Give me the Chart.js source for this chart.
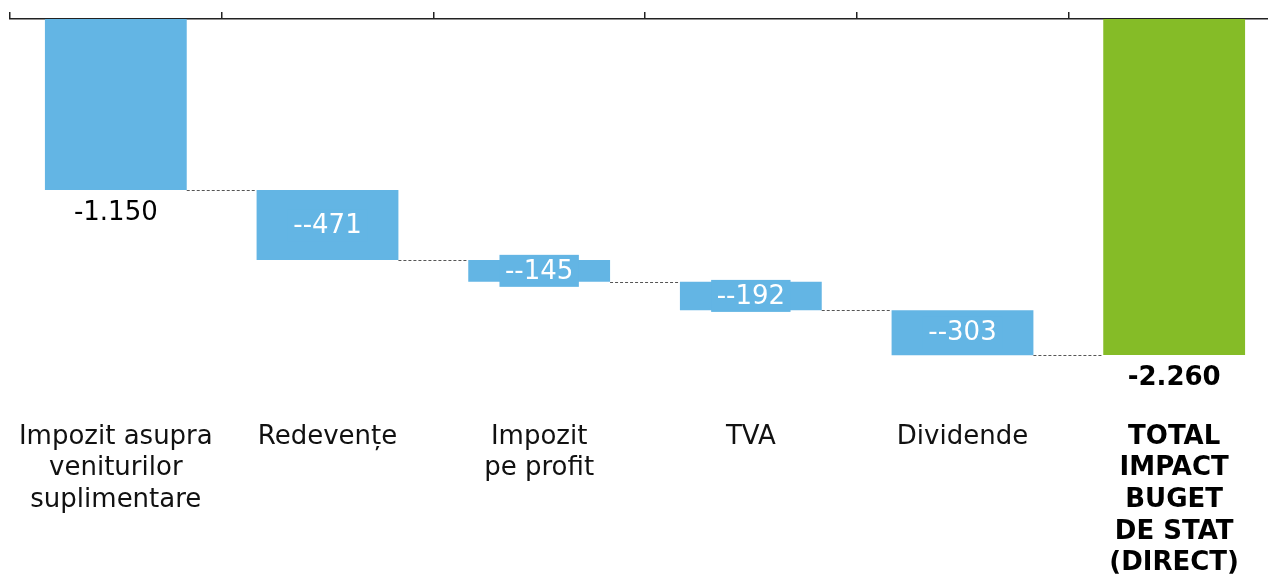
<!DOCTYPE html>
<html>
<head>
<meta charset="utf-8">
<script src="https://cdn.jsdelivr.net/npm/chart.js@4.4.0/dist/chart.umd.min.js"></script>
<style>
  html, body { margin: 0; padding: 0; background: #fff; overflow: hidden; }
  #wrap { width: 1280px; height: 576px; }
</style>
</head>
<body>
<div id="wrap"><canvas id="myChart"></canvas></div>
<script>
// data
var categories = [
    ['Impozit asupra', 'veniturilor', 'suplimentare'],
    ['Redevențe'],
    ['Impozit', 'pe profit'],
    ['TVA'],
    ['Dividende'],
    ['TOTAL', 'IMPACT', 'BUGET', 'DE STAT', '(DIRECT)']
];
var changes = [-1150, -471, -145, -192, -303];
var total = -2260;
var valueLabels = ['-1.150', '--471', '--145', '--192', '--303', '-2.260'];

var blue = 'rgb(99, 181, 228)';
var green = 'rgb(133, 188, 39)';
var fontFamily = "'DejaVu Sans', sans-serif";

// floating bars: running level for each step, total from zero
var bars = [];
var level = 0;
for (var i = 0; i < changes.length; i++) {
    bars.push([level, level + changes[i]]);
    level += changes[i];
}
bars.push([0, total]);

var labelPlugin = {
    id: 'wfLabels',
    afterDatasetsDraw: function(chart) {
        var ctx = chart.ctx;
        var meta = chart.getDatasetMeta(0);
        var y = chart.scales.y;
        ctx.save();
        // connectors
        ctx.strokeStyle = '#555';
        ctx.lineWidth = 1;
        ctx.setLineDash([3, 2]);
        for (var i = 0; i < bars.length - 1; i++) {
            var a = meta.data[i], b = meta.data[i + 1];
            var yy = Math.round(y.getPixelForValue(bars[i][1])) + 0.5;
            ctx.beginPath();
            ctx.moveTo(a.x + a.width / 2, yy);
            ctx.lineTo(b.x - b.width / 2, yy);
            ctx.stroke();
        }
        ctx.setLineDash([]);
        ctx.textAlign = 'center';
        ctx.textBaseline = 'middle';
        for (var j = 0; j < bars.length; j++) {
            var el = meta.data[j];
            var top = y.getPixelForValue(bars[j][0]);
            var bot = y.getPixelForValue(bars[j][1]);
            if (j === 0 || j === bars.length - 1) {
                ctx.font = (j === 0 ? '' : 'bold ') + '26px ' + fontFamily;
                ctx.fillStyle = '#000';
                ctx.fillText(valueLabels[j], el.x, bot + 23);
            } else {
                ctx.font = '26px ' + fontFamily;
                var w = ctx.measureText(valueLabels[j]).width + 11;
                var cy = (top + bot) / 2;
                ctx.fillStyle = blue;
                ctx.fillRect(el.x - w / 2, cy - 16, w, 32);
                ctx.fillStyle = '#fff';
                ctx.fillText(valueLabels[j], el.x, cy + 1);
            }
        }
        ctx.restore();
    }
};

var ctx = document.querySelector('#myChart').getContext('2d');
var myChart = new Chart(ctx, {
    type: 'bar',
    data: {
        labels: categories,
        datasets: [{
            data: bars,
            backgroundColor: [blue, blue, blue, blue, blue, green],
            borderWidth: 0,
            barPercentage: 0.67,
            categoryPercentage: 1,
            xAxisID: 'x',
            yAxisID: 'y'
        }]
    },
    options: {
        responsive: true,
        maintainAspectRatio: false,
        animation: false,
        layout: { padding: { left: 10, right: 0, top: 12, bottom: 0 } },
        plugins: { legend: { display: false }, tooltip: { enabled: false } },
        scales: {
            x: {
                type: 'category',
                position: 'bottom',
                offset: true,
                grid: { display: false, drawTicks: false },
                border: { display: false },
                afterFit: function(scale) {
                    scale.height = 176;
                    scale.paddingLeft = 0;
                    scale.paddingRight = 0;
                },
                ticks: {
                    padding: 21,
                    maxRotation: 0,
                    autoSkip: false,
                    color: function(c) { return c.index === 5 ? '#000' : '#111'; },
                    font: function(c) {
                        return {
                            family: fontFamily,
                            size: 26,
                            lineHeight: '31.7px',
                            weight: c.index === 5 ? 'bold' : 'normal'
                        };
                    }
                }
            },
            x2: {
                type: 'category',
                position: 'top',
                labels: categories,
                offset: true,
                grid: { offset: true, drawOnChartArea: false, drawTicks: true, tickLength: 7, color: '#222', lineWidth: 1.5 },
                border: { display: true, color: '#222', width: 1.5 },
                ticks: { display: false }
            },
            y: {
                display: false,
                min: -2562,
                max: 0
            }
        }
    },
    plugins: [labelPlugin]
});
</script>
</body>
</html>
